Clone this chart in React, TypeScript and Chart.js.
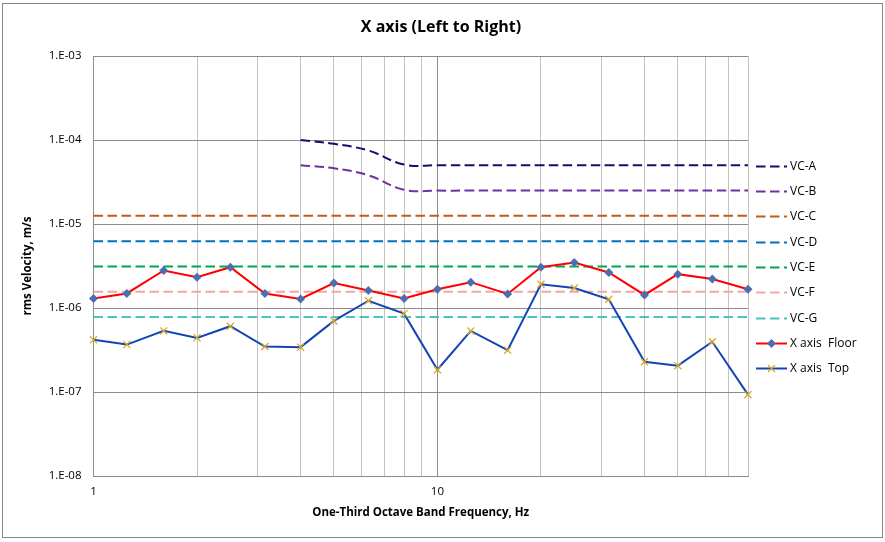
import React, { useEffect, useRef } from "react";
import { Chart, registerables } from "chart.js";

Chart.register(...registerables);

const FONT = "'Open Sans', 'Noto Sans', sans-serif";

const chartTitle = "X axis (Left to Right)";

const frequencies = [1, 1.25, 1.6, 2, 2.5, 3.15, 4, 5, 6.3, 8, 10, 12.5, 16, 20, 25, 31.5, 40, 50, 63, 80];
const vcFrequencies = [4, 5, 6.3, 8, 10, 12.5, 16, 20, 25, 31.5, 40, 50, 63, 80];
const flatFrequencies = [1, 80];

const vcA = [1.0e-4, 9.0e-5, 7.5e-5, 5.1e-5, 5e-5, 5e-5, 5e-5, 5e-5, 5e-5, 5e-5, 5e-5, 5e-5, 5e-5, 5e-5];
const vcB = [5.0e-5, 4.6e-5, 3.8e-5, 2.55e-5, 2.5e-5, 2.5e-5, 2.5e-5, 2.5e-5, 2.5e-5, 2.5e-5, 2.5e-5, 2.5e-5, 2.5e-5, 2.5e-5];
const vcC = [1.25e-5, 1.25e-5];
const vcD = [6.25e-6, 6.25e-6];
const vcE = [3.12e-6, 3.12e-6];
const vcF = [1.56e-6, 1.56e-6];
const vcG = [7.8e-7, 7.8e-7];

const xAxisFloor = [
  1.3e-6, 1.49e-6, 2.8e-6, 2.33e-6, 3.06e-6, 1.49e-6, 1.28e-6, 1.98e-6, 1.62e-6, 1.3e-6,
  1.67e-6, 2.03e-6, 1.47e-6, 3.06e-6, 3.48e-6, 2.65e-6, 1.43e-6, 2.53e-6, 2.21e-6, 1.67e-6,
];
const xAxisTop = [
  4.18e-7, 3.67e-7, 5.34e-7, 4.41e-7, 6.07e-7, 3.48e-7, 3.42e-7, 7.02e-7, 1.22e-6, 8.56e-7,
  1.84e-7, 5.34e-7, 3.15e-7, 1.92e-6, 1.73e-6, 1.27e-6, 2.29e-7, 2.06e-7, 3.96e-7, 9.3e-8,
];

const xGridValues = [1, 2, 3, 4, 5, 6, 7, 8, 9, 10, 20, 30, 40, 50, 60, 70, 80];
const xMajorValues = [1, 10];
const xTickLabels = ["1", "10"];
const yTickValues = [1e-8, 1e-7, 1e-6, 1e-5, 1e-4, 1e-3];
const yTickLabels = ["1.E-08", "1.E-07", "1.E-06", "1.E-05", "1.E-04", "1.E-03"];

const COLORS = {
  vcA: "#10106f",
  vcB: "#7030a0",
  vcC: "#c55a11",
  vcD: "#0070c0",
  vcE: "#00a651",
  vcF: "#f4a6a6",
  vcG: "#4bc3c0",
  floorLine: "#ff0000",
  floorMarker: "#4a6fb0",
  topLine: "#1244b5",
  topMarker: "#d8a928",
};

const MAJOR_GRID = "#8c8c8c";
const MINOR_GRID = "#c3c3c3";
const DASH = [9.5, 4.5];

const legendItems = [
  { label: "VC-A", color: COLORS.vcA, dash: true },
  { label: "VC-B", color: COLORS.vcB, dash: true },
  { label: "VC-C", color: COLORS.vcC, dash: true },
  { label: "VC-D", color: COLORS.vcD, dash: true },
  { label: "VC-E", color: COLORS.vcE, dash: true },
  { label: "VC-F", color: COLORS.vcF, dash: true },
  { label: "VC-G", color: COLORS.vcG, dash: true },
  { label: "X axis  Floor", color: COLORS.floorLine, marker: "diamond" },
  { label: "X axis  Top", color: COLORS.topLine, marker: "x" },
];

const toPoints = (xs: number[], ys: number[]) => xs.map((x, i) => ({ x, y: ys[i] }));

const framePlugin = {
  id: "frame",
  beforeDraw(chart: any) {
    const { ctx, width, height } = chart;
    ctx.save();
    ctx.fillStyle = "#ffffff";
    ctx.fillRect(0, 0, width, height);
    ctx.strokeStyle = "#878787";
    ctx.lineWidth = 1;
    ctx.strokeRect(2.5, 3.5, 880, 534);
    ctx.fillStyle = "#000000";
    ctx.font = `bold 16px ${FONT}`;
    ctx.textAlign = "center";
    ctx.textBaseline = "middle";
    ctx.fillText(chartTitle, 441, 27);
    ctx.restore();
  },
};

const legendPlugin = {
  id: "customLegend",
  afterDraw(chart: any) {
    const { ctx, chartArea } = chart;
    const spacing = 25.3;
    const centerY = (chartArea.top + chartArea.bottom) / 2 + 1;
    const x0 = chartArea.right + 8;
    const x1 = chartArea.right + 39;
    ctx.save();
    ctx.font = `12px ${FONT}`;
    ctx.textBaseline = "middle";
    ctx.textAlign = "left";
    legendItems.forEach((item, i) => {
      const y = Math.round(centerY + (i - (legendItems.length - 1) / 2) * spacing) + 0.5;
      ctx.strokeStyle = item.color;
      ctx.lineWidth = 2;
      ctx.setLineDash(item.dash ? DASH : []);
      ctx.beginPath();
      ctx.moveTo(x0, y);
      ctx.lineTo(x1, y);
      ctx.stroke();
      ctx.setLineDash([]);
      const mx = (x0 + x1) / 2;
      if (item.marker === "diamond") {
        ctx.fillStyle = COLORS.floorMarker;
        ctx.beginPath();
        ctx.moveTo(mx, y - 4.5);
        ctx.lineTo(mx + 4.5, y);
        ctx.lineTo(mx, y + 4.5);
        ctx.lineTo(mx - 4.5, y);
        ctx.closePath();
        ctx.fill();
      } else if (item.marker === "x") {
        ctx.strokeStyle = COLORS.topMarker;
        ctx.lineWidth = 1.3;
        ctx.beginPath();
        ctx.moveTo(mx - 3.5, y - 3.5);
        ctx.lineTo(mx + 3.5, y + 3.5);
        ctx.moveTo(mx + 3.5, y - 3.5);
        ctx.lineTo(mx - 3.5, y + 3.5);
        ctx.stroke();
      }
      ctx.fillStyle = "#000000";
      ctx.fillText(item.label, x1 + 3, y);
    });
    ctx.restore();
  },
};

export default function App() {
  const canvasRef = useRef<HTMLCanvasElement | null>(null);

  useEffect(() => {
    if (!canvasRef.current) return;
    const vcStyle = (color: string) => ({
      borderColor: color,
      backgroundColor: color,
      borderWidth: 2,
      borderDash: DASH,
      pointRadius: 0,
      pointHoverRadius: 0,
      fill: false,
      order: 1,
    });
    const chart = new Chart(canvasRef.current, {
      type: "line",
      data: {
        datasets: [
          {
            label: "X axis Top",
            data: toPoints(frequencies, xAxisTop),
            borderColor: COLORS.topLine,
            borderWidth: 2,
            pointStyle: "crossRot",
            pointRadius: 5,
            pointBorderColor: COLORS.topMarker,
            pointBackgroundColor: COLORS.topMarker,
            pointBorderWidth: 1.3,
            clip: false,
            order: 0,
          },
          {
            label: "X axis Floor",
            data: toPoints(frequencies, xAxisFloor),
            borderColor: COLORS.floorLine,
            borderWidth: 2,
            pointStyle: "rectRot",
            pointRadius: 4.5,
            pointBorderColor: COLORS.floorMarker,
            pointBackgroundColor: COLORS.floorMarker,
            pointBorderWidth: 0,
            clip: false,
            order: 0,
          },
          { label: "VC-A", data: toPoints(vcFrequencies, vcA), ...vcStyle(COLORS.vcA), tension: 0.4 },
          { label: "VC-B", data: toPoints(vcFrequencies, vcB), ...vcStyle(COLORS.vcB), tension: 0.4 },
          { label: "VC-C", data: toPoints(flatFrequencies, vcC), ...vcStyle(COLORS.vcC) },
          { label: "VC-D", data: toPoints(flatFrequencies, vcD), ...vcStyle(COLORS.vcD) },
          { label: "VC-E", data: toPoints(flatFrequencies, vcE), ...vcStyle(COLORS.vcE) },
          { label: "VC-F", data: toPoints(flatFrequencies, vcF), ...vcStyle(COLORS.vcF) },
          { label: "VC-G", data: toPoints(flatFrequencies, vcG), ...vcStyle(COLORS.vcG) },
        ],
      },
      options: {
        animation: false,
        responsive: false,
        maintainAspectRatio: false,
        devicePixelRatio: 1,
        layout: { padding: { left: 0, right: 137, top: 56, bottom: 0 } },
        plugins: {
          legend: { display: false },
          tooltip: { enabled: false },
          title: { display: false },
        },
        scales: {
          x: {
            type: "logarithmic",
            min: 1,
            max: 80,
            afterBuildTicks: (scale: any) => {
              scale.ticks = xGridValues.map((v) => ({ value: v }));
            },
            afterFit: (scale: any) => {
              scale.height = 66;
            },
            ticks: {
              autoSkip: false,
              maxRotation: 0,
              padding: 9,
              color: "#000000",
              font: { family: FONT, size: 11.5 },
              callback: (value: any) => {
                const idx = xMajorValues.indexOf(Number(value));
                return idx >= 0 ? xTickLabels[idx] : "";
              },
            },
            grid: {
              drawTicks: false,
              color: (ctx: any) =>
                ctx.tick && xMajorValues.includes(ctx.tick.value) ? MAJOR_GRID : MINOR_GRID,
            },
            border: { display: true, color: MAJOR_GRID },
            title: {
              display: true,
              text: "One-Third Octave Band Frequency, Hz",
              color: "#000000",
              font: { family: FONT, size: 11.5, weight: "bold" },
              padding: { top: 0, bottom: 22 },
            },
          },
          y: {
            type: "logarithmic",
            min: 1e-8,
            max: 1e-3,
            afterBuildTicks: (scale: any) => {
              scale.ticks = yTickValues.map((v) => ({ value: v }));
            },
            afterFit: (scale: any) => {
              scale.width = 93.5;
            },
            ticks: {
              autoSkip: false,
              padding: 12,
              color: "#000000",
              font: { family: FONT, size: 11.5 },
              callback: (value: any) => {
                const idx = yTickValues.findIndex((v) => Math.abs(v - Number(value)) / v < 1e-6);
                return idx >= 0 ? yTickLabels[idx] : "";
              },
            },
            grid: { drawTicks: false, color: MAJOR_GRID },
            border: { display: true, color: MAJOR_GRID },
            title: {
              display: true,
              text: "rms Velocity, m/s",
              color: "#000000",
              font: { family: FONT, size: 11.5, weight: "bold" },
              padding: { top: 21, bottom: 0 },
            },
          },
        },
      },
      plugins: [framePlugin, legendPlugin],
    } as any);
    return () => chart.destroy();
  }, []);

  return (
    <div style={{ position: "fixed", left: 0, top: 0, width: 885, height: 542 }}>
      <canvas ref={canvasRef} width={885} height={542} style={{ width: 885, height: 542, display: "block" }} />
    </div>
  );
}
